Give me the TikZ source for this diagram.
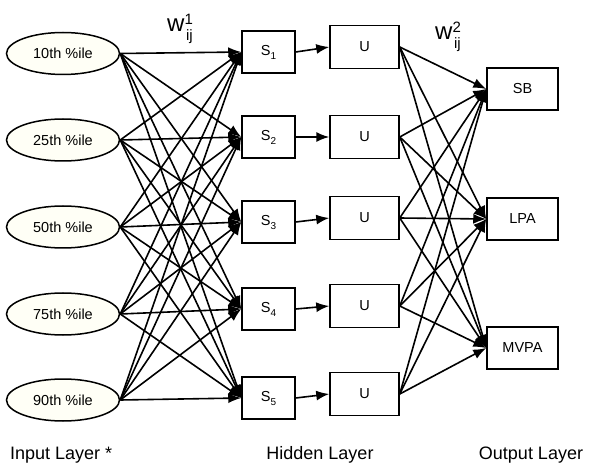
\documentclass[tikz,border=0pt]{standalone}
\usepackage{fontspec}
\setmainfont{Liberation Sans}
\usetikzlibrary{arrows.meta,shapes.geometric,positioning}
\definecolor{cream}{RGB}{255,255,246}

% small lowered index for the S boxes
\newcommand{\lowidx}[1]{\raisebox{-4pt}{\fontsize{10}{10}\selectfont #1}}
% weight label w^k_ij
\newcommand{\wlabel}[1]{\fontsize{24}{24}\selectfont w\rlap{\raisebox{7pt}{\fontsize{15}{15}\selectfont #1}}\raisebox{-8.5pt}{\fontsize{15}{15}\selectfont\hspace{1.5pt}ij}}

\begin{document}
\begin{tikzpicture}[x=1pt,y=-1pt,
    inp/.style={draw, ellipse, line width=1.5pt, fill=cream, minimum width=113pt, minimum height=42pt, inner sep=0pt, font=\fontsize{14.5}{16}\selectfont},
    hid/.style={draw, rectangle, line width=1.5pt, minimum width=53pt, minimum height=42pt, inner sep=0pt, font=\fontsize{14.5}{16}\selectfont},
    act/.style={draw, rectangle, line width=1.5pt, minimum width=69pt, minimum height=43pt, inner sep=0pt, font=\fontsize{14.5}{16}\selectfont},
    outp/.style={draw, rectangle, line width=1.5pt, minimum width=71pt, minimum height=42pt, inner sep=0pt, font=\fontsize{14.5}{16}\selectfont},
    conn/.style={line width=1.6pt, -{Latex[length=13pt,width=10pt]}},
    layer/.style={font=\fontsize{18}{20}\selectfont}]
    \useasboundingbox (0,0) rectangle (597,470);

    % Input layer
    \foreach \p/\y [count=\i] in {10/53.5,25/140,50/227,75/314,90/400}
        \node[inp] (in\i) at (63,\y) {\p th \%ile};

    % Hidden layer: summing units and activations
    \foreach \y [count=\i] in {52,137,222,309,398}
        \node[hid] (s\i) at (268.5,\y) {S\lowidx{\i}};
    \foreach \y [count=\i] in {47,137,218,306,394}
        \node[act] (u\i) at (364.5,\y) {U};

    % Output layer
    \node[outp] (sb) at (522.5,89) {SB};
    \node[outp] (lpa) at (522.5,219) {LPA};
    \node[outp] (mvpa) at (522.5,348) {MVPA};

    % Weights w1: every input to every S
    \foreach \i in {1,...,5}
        \foreach \j in {1,...,5}
            \draw[conn] (in\i.east) -- (s\j.west);

    % S -> U, then weights w2: every U to every output
    \foreach \i in {1,...,5} {
        \draw[conn] (s\i.east) -- (u\i.west);
        \foreach \o in {sb,lpa,mvpa}
            \draw[conn] (u\i.east) -- (\o.west);
    }

    % Weight labels
    \node[anchor=base west, inner sep=0pt] (w1) at (167,32) {\wlabel{1}};
    \node[anchor=base west, inner sep=0pt] (w2) at (435,40) {\wlabel{2}};

    % Layer names
    \node[layer, anchor=base west, inner sep=0pt] (inlab) at (10,459) {Input Layer *};
    \node[layer, anchor=base, inner sep=0pt] (hidlab) at (320,459) {Hidden Layer};
    \node[layer, anchor=base, inner sep=0pt] (outlab) at (531,459) {Output Layer};
\end{tikzpicture}
\end{document}
